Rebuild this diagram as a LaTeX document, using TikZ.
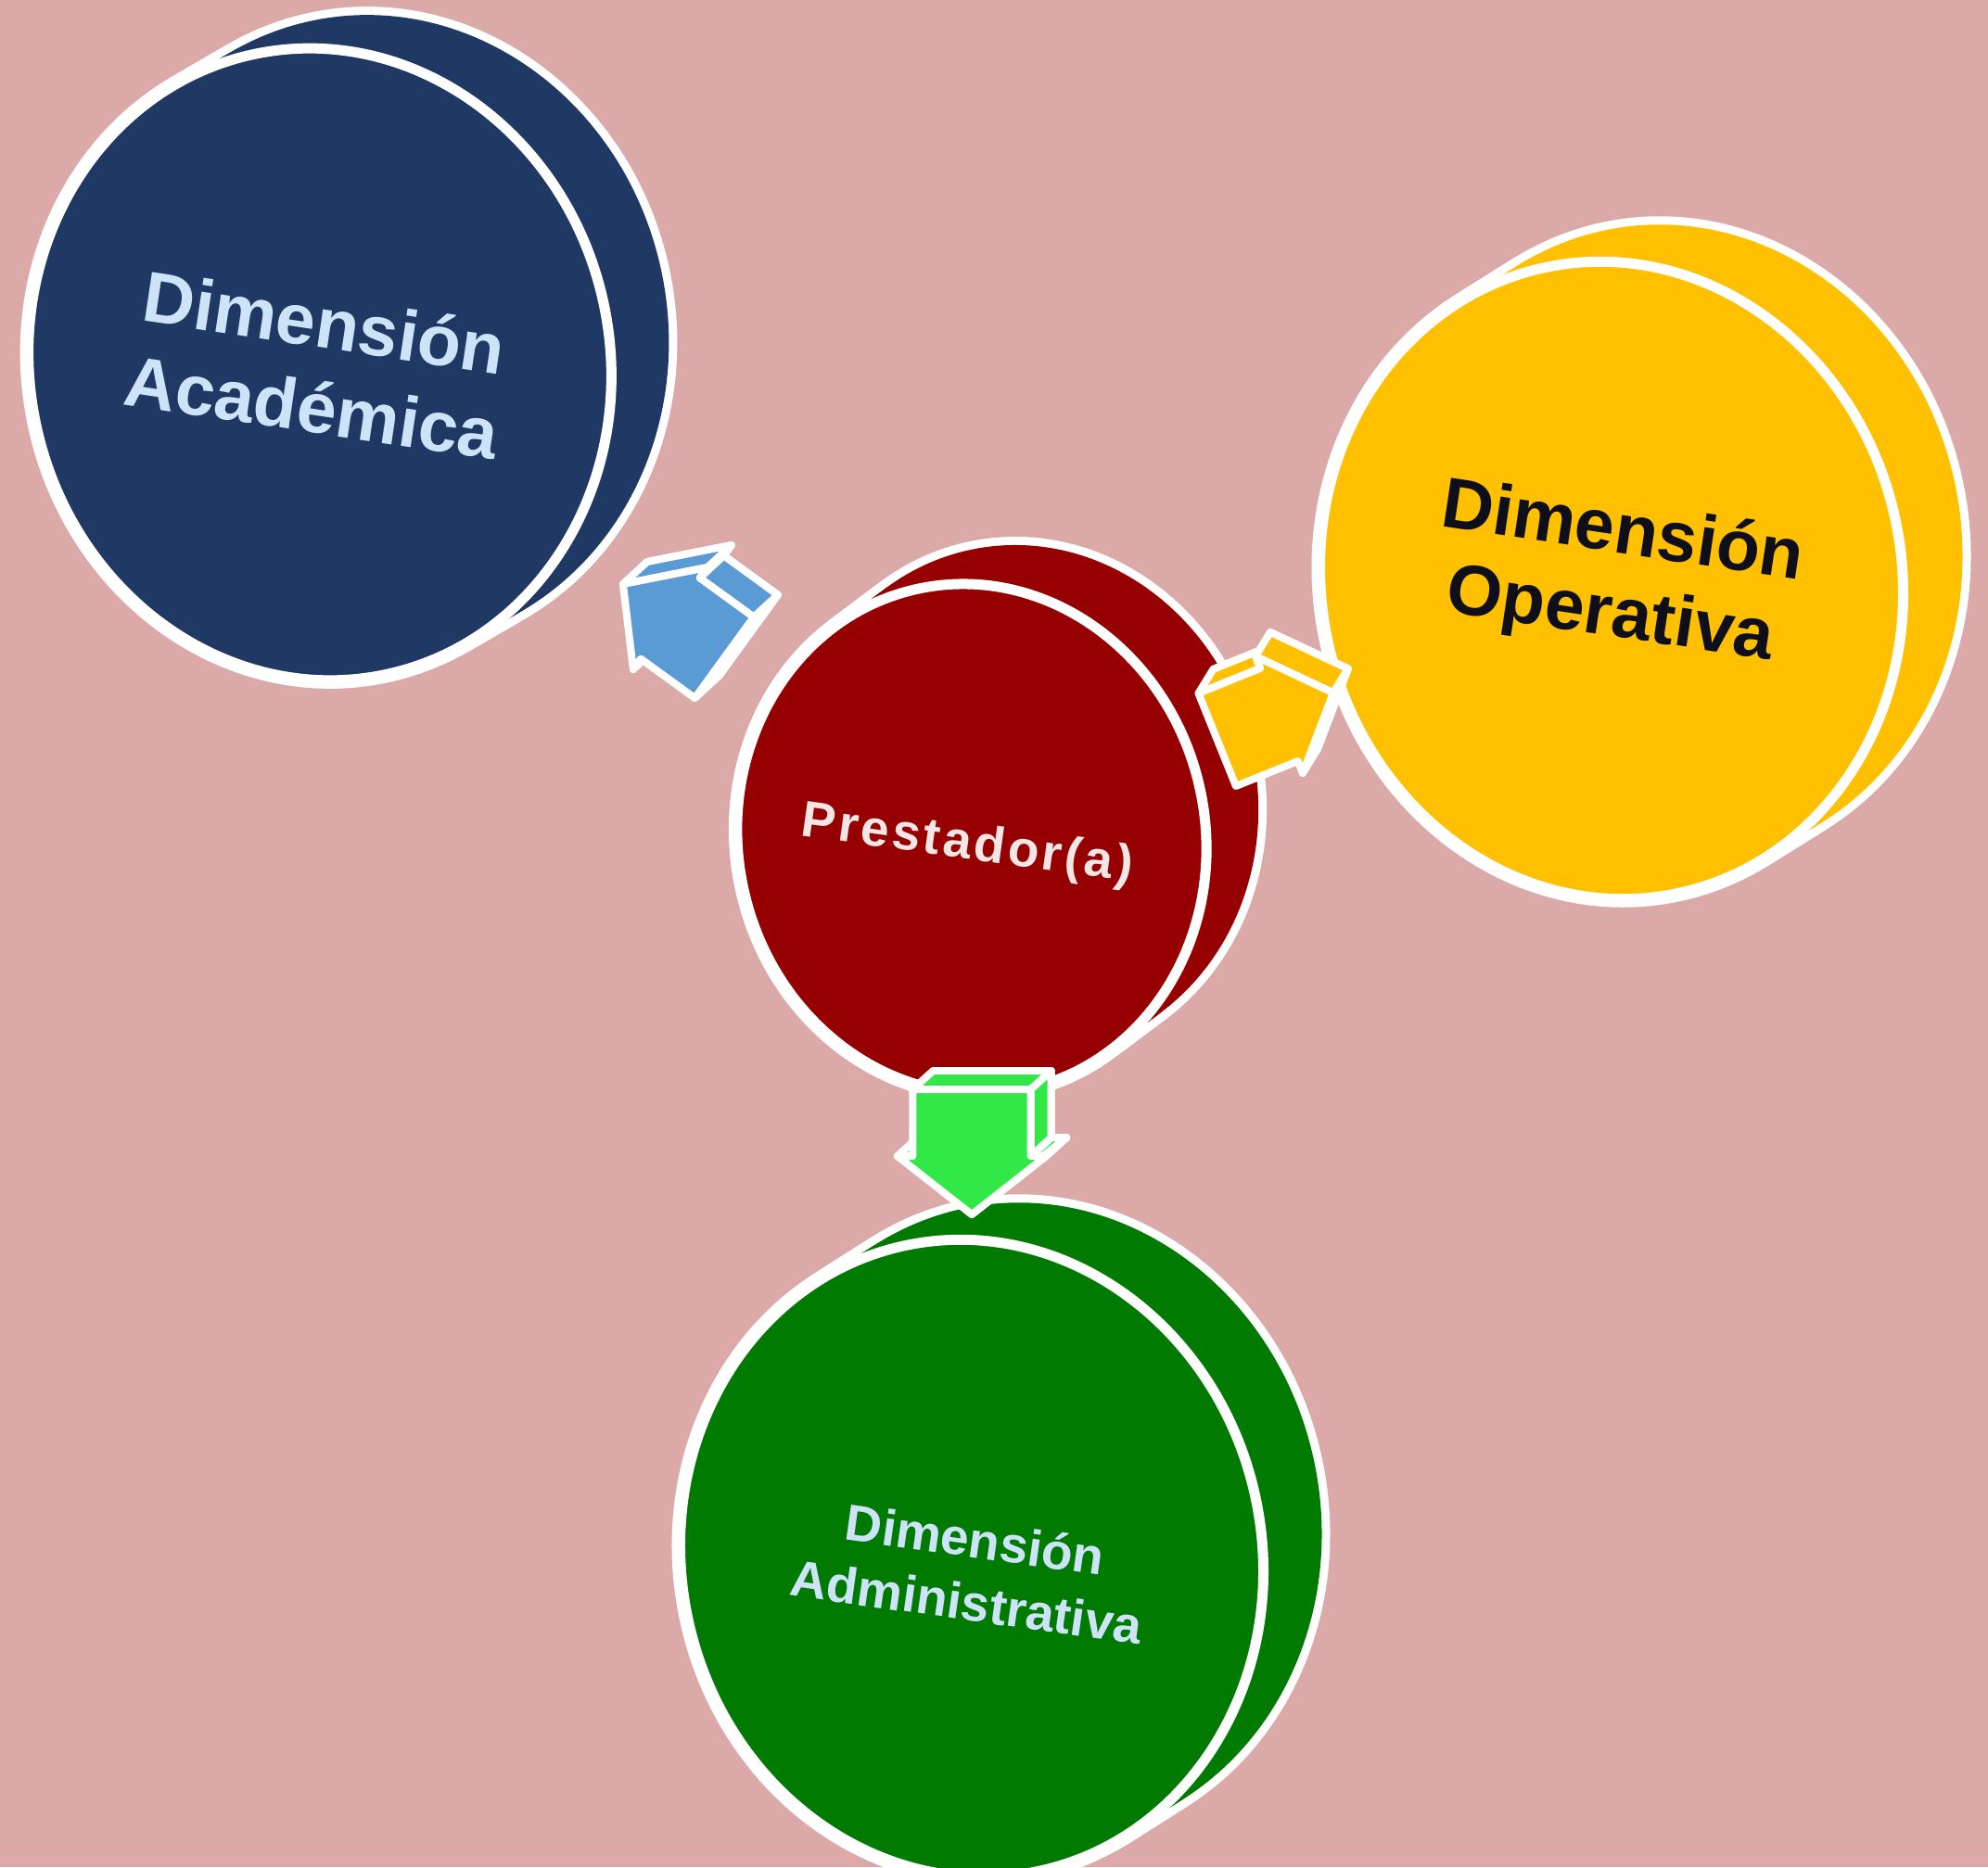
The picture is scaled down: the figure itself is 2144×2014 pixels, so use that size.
\documentclass[tikz,border=0pt]{standalone}
\usepackage{fontspec}
\setmainfont{Liberation Sans}
\usetikzlibrary{calc}

\definecolor{bg}{RGB}{219,169,168}
\definecolor{navy}{RGB}{31,56,100}
\definecolor{gold}{RGB}{255,192,0}
\definecolor{crimson}{RGB}{150,0,0}
\definecolor{leaf}{RGB}{0,122,0}
\definecolor{arrblue}{RGB}{91,155,213}
\definecolor{arrgreen}{RGB}{50,232,70}
\definecolor{txtblue}{RGB}{205,228,248}
\definecolor{txtpink}{RGB}{245,230,230}
\definecolor{txtdark}{RGB}{15,15,25}

\tikzset{
  arrowedge/.style={draw=white, line width=8pt, line join=round},
  disctext/.style={align=center, inner sep=0pt},
}

% #1 x, #2 y, #3 x radius, #4 y radius, #5 dx, #6 dy, #7 colour
\newcommand\mydisc[7]{%
  \foreach \t in {0,1,...,16} {
    \begin{scope}[shift={({#1+\t*#5/16},{#2+\t*#6/16})}, rotate=12]
      \draw[white, line width=18pt] (0,0) ellipse [x radius=#3, y radius=#4];
    \end{scope}}
  \foreach \t in {0,1,...,16} {
    \begin{scope}[shift={({#1+\t*#5/16},{#2+\t*#6/16})}, rotate=12]
      \fill[#7] (0,0) ellipse [x radius=#3, y radius=#4];
    \end{scope}}
  \begin{scope}[shift={(#1,#2)}, rotate=12]
    \filldraw[fill=#7, draw=white, line width=11pt] (0,0) ellipse [x radius=#3, y radius=#4];
  \end{scope}}

% #1 name, #2 tip point, #3 angle, #4 colour, #5 dx, #6 dy, #7 visible side faces, #8 width scale
\newcommand\blockarrow[8]{%
  \begin{scope}[shift={#2}, rotate=#3, yscale=#8]
    \coordinate (#1-1) at (0,0);
    \coordinate (#1-2) at (-63,68);
    \coordinate (#1-3) at (-63,54);
    \coordinate (#1-4) at (-135,54);
    \coordinate (#1-5) at (-135,-54);
    \coordinate (#1-6) at (-63,-54);
    \coordinate (#1-7) at (-63,-68);
  \end{scope}
  \foreach \i in {1,...,7} { \coordinate (#1-b\i) at ($(#1-\i)+(#5,#6)$); }
  \filldraw[fill=#4, arrowedge] (#1-b1) -- (#1-b2) -- (#1-b3) -- (#1-b4) -- (#1-b5) -- (#1-b6) -- (#1-b7) -- cycle;
  \foreach \i/\j in {#7} {
    \filldraw[fill=#4, arrowedge] (#1-\i) -- (#1-\j) -- (#1-b\j) -- (#1-b\i) -- cycle; }
  \filldraw[fill=#4, arrowedge] (#1-1) -- (#1-2) -- (#1-3) -- (#1-4) -- (#1-5) -- (#1-6) -- (#1-7) -- cycle;
}

\begin{document}
\begin{tikzpicture}[x=1pt, y=1pt]
  \useasboundingbox (0,0) rectangle (2144,-2014);
  \fill[bg] (0,0) rectangle (2144,-2014);

  \coordinate (cA) at (345,-391);
  \coordinate (cO) at (1738,-626);
  \coordinate (cP) at (1048,-905);
  \coordinate (cD) at (1048,-1681);

  % discs
  \mydisc{345}{-393}{313}{342}{62}{36}{navy}
  \mydisc{1738}{-626}{313}{345}{64}{40}{gold}
  \mydisc{1048}{-905}{252}{276}{56}{42}{crimson}
  \mydisc{1048}{-1681}{313}{345}{63}{40}{leaf}

  % labels
  \node[disctext, rotate=-8.5, text=txtblue,
        font=\bfseries\fontsize{77}{92}\selectfont] (tA) at (343,-393) {Dimensión\\Académica};
  \node[disctext, rotate=-8.5, text=txtdark,
        font=\bfseries\fontsize{77}{90}\selectfont] (tO) at (1743,-621) {Dimensión\\Operativa};
  \node[disctext, rotate=-8, text=txtpink,
        font=\bfseries\fontsize{55}{64}\selectfont\addfontfeatures{LetterSpace=6}] (tP) at (1043,-912) {Prestador(a)};
  \node[disctext, rotate=-8, text=txtblue,
        font=\bfseries\fontsize{55}{68}\selectfont] (tD) at (1047,-1694) {Dimensión\\Administrativa};

  % block arrows from Prestador(a) towards each dimension
  \blockarrow{ab}{($(cP)!0.535!(cA)$)}{144}{arrblue}{26}{24}{2/3,4/5,6/7,5/6,7/1}{1}
  \blockarrow{ay}{($(cP)!0.565!(cO)$)}{22}{gold}{16}{26}{3/4,1/2,7/1}{1}
  \blockarrow{ag}{($(cP)!0.522!(cD)$)}{-90}{arrgreen}{22}{20}{2/3,6/7,4/5,1/2,3/4}{1.18}
\end{tikzpicture}
\end{document}
